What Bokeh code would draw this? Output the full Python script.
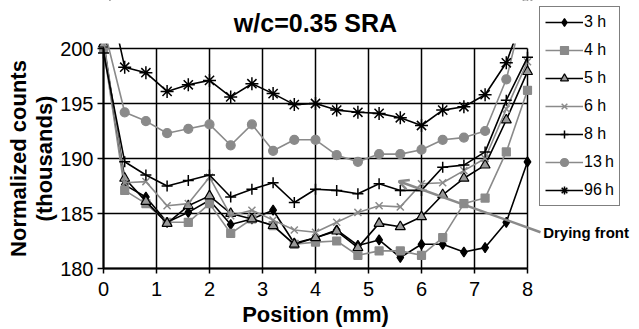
from bokeh.plotting import figure
from bokeh.models import (Legend, LegendItem, FixedTicker, Arrow, OpenHead, Label,
                          Range1d, BoxAnnotation)
from bokeh.embed import file_html
from bokeh.resources import INLINE

# ---- data -------------------------------------------------------------
positions = [0.0, 0.4, 0.8, 1.2, 1.6, 2.0, 2.4, 2.8, 3.2, 3.6, 4.0,
             4.4, 4.8, 5.2, 5.6, 6.0, 6.4, 6.8, 7.2, 7.6, 8.0]

h3 = [200.6, 187.6, 186.5, 184.2, 185.1, 186.2, 184.0, 184.5, 185.3, 182.3, 182.8,
      183.5, 182.1, 182.6, 181.0, 182.2, 182.2, 181.5, 181.9, 184.2, 189.7]
h4 = [200.0, 187.1, 185.9, 184.2, 184.2, 185.9, 183.2, 184.5, 183.9, 182.2, 182.4,
      182.5, 181.2, 181.6, 181.6, 181.2, 182.8, 185.9, 186.4, 190.6, 196.2]
h5 = [200.4, 188.2, 186.1, 184.1, 185.7, 186.6, 185.0, 184.5, 183.9, 182.2, 182.8,
      183.4, 181.9, 184.1, 183.8, 184.7, 186.7, 188.2, 189.4, 193.5, 197.9]
h6 = [200.8, 187.8, 187.9, 185.7, 185.9, 188.3, 184.8, 185.3, 184.4, 183.5, 183.3,
      184.2, 185.1, 185.7, 185.6, 187.7, 187.8, 188.9, 190.0, 194.5, 198.8]
h8 = [199.6, 189.7, 188.5, 187.5, 188.0, 188.5, 186.5, 187.2, 187.8, 186.0, 187.2,
      187.1, 186.8, 187.7, 187.1, 187.1, 189.2, 189.4, 190.6, 195.3, 199.2]
h13 = [202.0, 194.2, 193.4, 192.3, 192.7, 193.1, 191.2, 193.1, 190.7, 191.7, 191.7,
       190.3, 189.7, 190.4, 190.4, 190.8, 191.7, 191.9, 192.5, 197.2, 205.0]
h96 = [207.0, 198.3, 197.8, 196.1, 196.7, 197.1, 195.6, 196.8, 195.9, 194.9, 195.0,
       194.4, 194.2, 194.1, 193.7, 193.0, 194.4, 194.7, 195.8, 198.7, 204.0]

series_labels = ["3 h", "4 h", "5 h", "6 h", "8 h", "13\u2009h", "96\u2009h"]
series_values = [h3, h4, h5, h6, h8, h13, h96]

x_ticks = [0, 1, 2, 3, 4, 5, 6, 7, 8]
y_ticks = [180, 185, 190, 195, 200]

title_text = "w/c=0.35 SRA"
x_label = "Position (mm)"
y_label = "Normalized counts\n(thousands)"

# drying-front annotation (arrow start/end and label anchor, data units)
front_start = (8.245, 183.3)
front_end = (5.57, 187.93)
front_label = "Drying front"

# ---- layout (pixels) --------------------------------------------------
W, H = 639, 329
X0_PX, PX_PER_X = 103.0, 53.0       # where x=0 lies, px per mm
YTOP_PX, PX_PER_Y = 48.0, 11.0      # where y=200 lies (from top), px per unit
CLIP_TOP = 200.45                   # lines are cut a little above the top grid line

BLACK = "#000000"
GRAY = "#8a8a8a"
FONT = "Liberation Sans"

styles = [
    dict(line=BLACK, marker="diamond", size=10, fill=BLACK, mline=BLACK),
    dict(line=GRAY, marker="square", size=8, fill=GRAY, mline=GRAY),
    dict(line=BLACK, marker="triangle", size=10, fill="#9a9a9a", mline=BLACK),
    dict(line=GRAY, marker="x", size=10, fill=GRAY, mline=GRAY),
    dict(line=BLACK, marker="cross", size=11, fill=BLACK, mline=BLACK),
    dict(line=GRAY, marker="circle", size=9, fill=GRAY, mline=GRAY),
    dict(line=BLACK, marker="asterisk", size=13, fill=BLACK, mline=BLACK),
]

x_rng = Range1d(-X0_PX / PX_PER_X, (W - X0_PX) / PX_PER_X)
y_rng = Range1d(y_ticks[-1] - (H - YTOP_PX) / PX_PER_Y, y_ticks[-1] + YTOP_PX / PX_PER_Y)

p = figure(width=W, height=H, output_backend="svg", toolbar_location=None,
           x_range=x_rng, y_range=y_rng, title=None,
           min_border_left=0, min_border_right=0, min_border_top=0,
           min_border_bottom=0)

p.outline_line_color = None
p.background_fill_color = "white"
p.border_fill_color = "white"
p.xgrid.visible = False
p.ygrid.visible = False

# axes (fixed at x=0 / y=180, drawn inside the full-size frame)
p.xaxis.ticker = FixedTicker(ticks=x_ticks)
p.yaxis.ticker = FixedTicker(ticks=y_ticks)
p.yaxis.fixed_location = x_ticks[0]
p.xaxis.fixed_location = y_ticks[0]
p.xaxis.bounds = (x_ticks[0], x_ticks[-1])
p.yaxis.bounds = (y_ticks[0], y_ticks[-1])
for ax in (p.xaxis, p.yaxis):
    ax.axis_line_color = BLACK
    ax.axis_line_width = 2
    ax.major_tick_line_color = BLACK
    ax.major_tick_line_width = 1.5
    ax.major_tick_in = 0
    ax.minor_tick_line_color = None
    ax.major_label_text_font = FONT
    ax.major_label_text_font_size = "20px"
    ax.major_label_text_color = BLACK
    ax.axis_label_text_font = FONT
    ax.axis_label_text_font_size = "22px"
    ax.axis_label_text_font_style = "bold"
    ax.axis_label_text_color = BLACK
p.xaxis.major_tick_out = 5
p.yaxis.major_tick_out = 6
p.xaxis.major_label_standoff = 8
p.yaxis.major_label_standoff = 4
p.xaxis.axis_label_standoff = 3
p.yaxis.axis_label_standoff = 0
p.xaxis.axis_label = x_label
p.yaxis.axis_label = y_label
p.yaxis.axis_label_text_line_height = 1.05

# grid lines, bounded to the tick extents
n, m = len(x_ticks), len(y_ticks)
p.segment(x0=x_ticks, y0=[y_ticks[0]] * n, x1=x_ticks, y1=[y_ticks[-1]] * n,
          line_color=BLACK, line_width=1.5)
p.segment(x0=[x_ticks[0]] * m, y0=y_ticks, x1=[x_ticks[-1]] * m, y1=y_ticks,
          line_color=BLACK, line_width=1.5)

items = []
for label, vals, st in zip(series_labels, series_values, styles):
    r_line = p.line(positions, vals, line_color=st["line"], line_width=1.6)
    r_mark = p.scatter(positions, vals, marker=st["marker"], size=st["size"],
                       fill_color=st["fill"], line_color=st["mline"],
                       line_width=1.5 if st["marker"] in ("x", "cross", "asterisk") else 1.2)
    items.append(LegendItem(label=label, renderers=[r_line, r_mark]))

# cut the series just above the top grid line (like the original clip region)
p.add_layout(BoxAnnotation(left=x_ticks[0] - 0.12, bottom=CLIP_TOP, fill_color="white",
                           fill_alpha=1.0, line_color=None))

title = Label(x=(x_ticks[0] + x_ticks[-1]) / 2, y=202.35, text=title_text,
              text_font=FONT, text_font_size="25px", text_font_style="bold",
              text_align="center", text_baseline="middle", text_color=BLACK)
p.add_layout(title)

legend = Legend(items=items, location=(539, 123))
legend.border_line_color = BLACK
legend.border_line_width = 1.2
legend.background_fill_color = "white"
legend.label_text_font = FONT
legend.label_text_font_size = "16px"
legend.label_text_color = BLACK
legend.glyph_width = 38
legend.glyph_height = 20
legend.label_height = 20
legend.label_standoff = 1
legend.spacing = 8
legend.padding = 5
legend.margin = 0
p.add_layout(legend, "center")

arrow = Arrow(end=OpenHead(size=10, line_color=GRAY, line_width=2.5),
              x_start=front_start[0], y_start=front_start[1],
              x_end=front_end[0], y_end=front_end[1],
              line_color=GRAY, line_width=2.5)
p.add_layout(arrow)

lbl = Label(x=front_start[0] + 0.05, y=183.25, text=front_label,
            text_font=FONT, text_font_size="15px", text_font_style="bold",
            text_baseline="middle", text_align="left", text_color=BLACK)
p.add_layout(lbl)

open("out.html", "w").write(file_html(p, INLINE))
